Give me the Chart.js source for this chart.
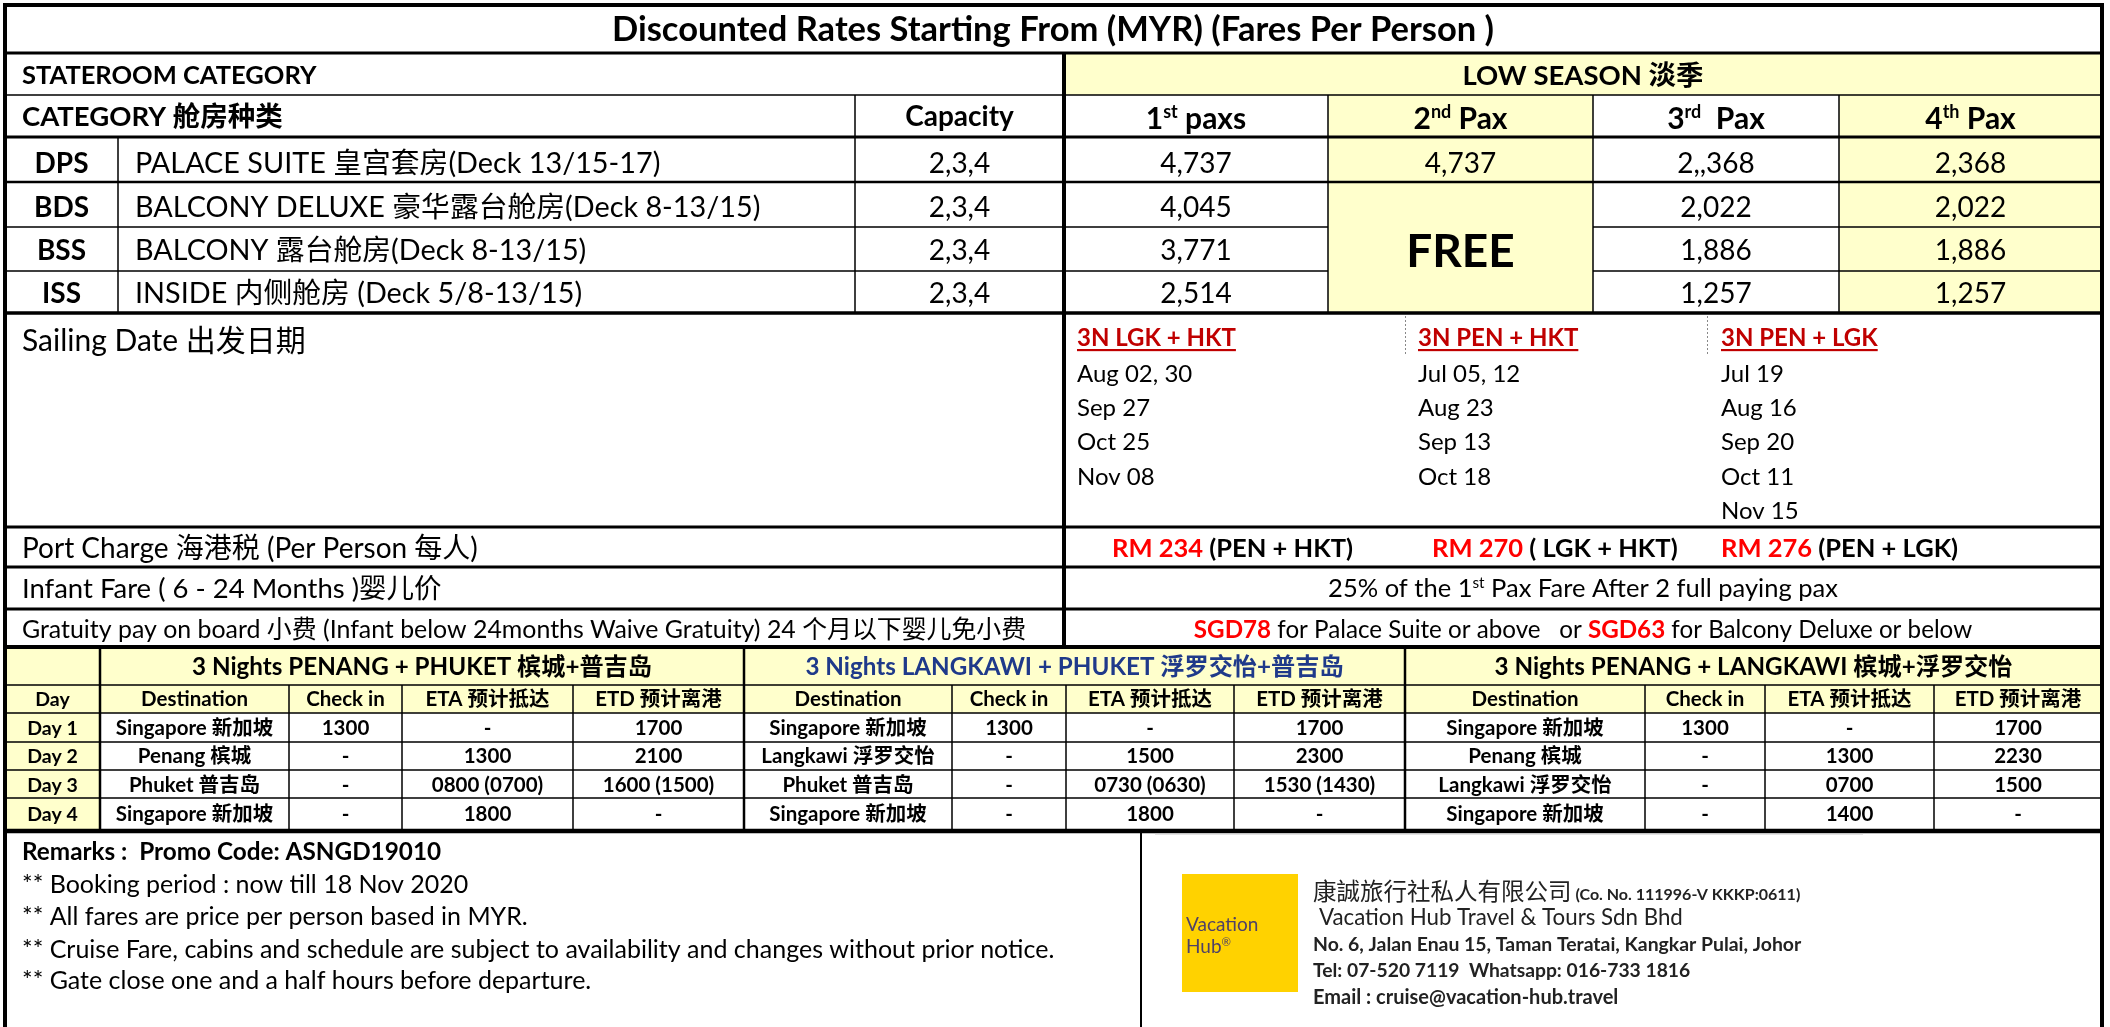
<!DOCTYPE html>
<html>
<head>
<meta charset="utf-8">
<script src="https://cdn.jsdelivr.net/npm/chart.js@4/dist/chart.umd.min.js"></script>
<style>
html,body{margin:0;padding:0;background:#fff;}
canvas{display:block;}
</style>
</head>
<body>
<canvas id="c" width="2110" height="1027"></canvas>
<script>
// ---------------- DATA ----------------
const titleText = "Discounted Rates Starting From (MYR) (Fares Per Person )";
const stateroomHeader = "STATEROOM CATEGORY";
const seasonHeader = "LOW SEASON 淡季";
const categoryHeader = "CATEGORY 舱房种类";
const capacityHeader = "Capacity";
const paxHeaders = [["1", "st", " paxs"], ["2", "nd", " Pax"], ["3", "rd", "  Pax"], ["4", "th", " Pax"]];
const cabinCodes = ["DPS", "BDS", "BSS", "ISS"];
const cabinNames = ["PALACE SUITE 皇宫套房(Deck 13/15-17)", "BALCONY DELUXE 豪华露台舱房(Deck 8-13/15)", "BALCONY 露台舱房(Deck 8-13/15)", "INSIDE 内侧舱房 (Deck 5/8-13/15)"];
const capacities = ["2,3,4", "2,3,4", "2,3,4", "2,3,4"];
const fare1st = ["4,737", "4,045", "3,771", "2,514"];
const fare2nd = ["4,737", "FREE"];
const fare3rd = ["2,,368", "2,022", "1,886", "1,257"];
const fare4th = ["2,368", "2,022", "1,886", "1,257"];

const sailingLabel = "Sailing Date 出发日期";
const sailingRoutes = ["3N LGK + HKT", "3N PEN + HKT", "3N PEN + LGK"];
const sailingDatesLGKHKT = ["Aug 02, 30", "Sep 27", "Oct 25", "Nov 08"];
const sailingDatesPENHKT = ["Jul 05, 12", "Aug 23", "Sep 13", "Oct 18"];
const sailingDatesPENLGK = ["Jul 19", "Aug 16", "Sep 20", "Oct 11", "Nov 15"];

const portChargeLabel = "Port Charge 海港税 (Per Person 每人)";
const portChargeAmounts = ["RM 234", "RM 270", "RM 276"];
const portChargeRoutes = [" (PEN + HKT)", " ( LGK + HKT)", " (PEN + LGK)"];
const infantLabel = "Infant Fare ( 6 - 24 Months )婴儿价";
const infantText = ["25% of the 1", "st", " Pax Fare After 2 full paying pax"];
const gratuityLabel = "Gratuity pay on board 小费 (Infant below 24months Waive Gratuity) 24 个月以下婴儿免小费";
const gratuityAmounts = ["SGD78", "SGD63"];
const gratuityTexts = [" for Palace Suite or above   or ", " for Balcony Deluxe or below"];

const itineraryTitles = ["3 Nights PENANG + PHUKET 槟城+普吉岛", "3 Nights LANGKAWI + PHUKET 浮罗交怡+普吉岛", "3 Nights PENANG + LANGKAWI 槟城+浮罗交怡"];
const itineraryColumns = ["Destination", "Check in", "ETA 预计抵达", "ETD 预计离港"];
const dayLabels = ["Day 1", "Day 2", "Day 3", "Day 4"];
const itineraryPENHKT = [["Singapore 新加坡", "1300", "-", "1700"], ["Penang 槟城", "-", "1300", "2100"], ["Phuket 普吉岛", "-", "0800 (0700)", "1600 (1500)"], ["Singapore 新加坡", "-", "1800", "-"]];
const itineraryLGKHKT = [["Singapore 新加坡", "1300", "-", "1700"], ["Langkawi 浮罗交怡", "-", "1500", "2300"], ["Phuket 普吉岛", "-", "0730 (0630)", "1530 (1430)"], ["Singapore 新加坡", "-", "1800", "-"]];
const itineraryPENLGK = [["Singapore 新加坡", "1300", "-", "1700"], ["Penang 槟城", "-", "1300", "2230"], ["Langkawi 浮罗交怡", "-", "0700", "1500"], ["Singapore 新加坡", "-", "1400", "-"]];

const remarksTitle = "Remarks :  Promo Code: ASNGD19010";
const remarksLines = ["** Booking period : now till 18 Nov 2020", "** All fares are price per person based in MYR.", "** Cruise Fare, cabins and schedule are subject to availability and changes without prior notice.", "** Gate close one and a half hours before departure."];
const logoWords = ["Vacation", "Hub"];
const companyCn = "康誠旅行社私人有限公司";
const companyReg = " (Co. No. 111996-V KKKP:0611)";
const companyLines = ["Vacation Hub Travel & Tours Sdn Bhd", "No. 6, Jalan Enau 15, Taman Teratai, Kangkar Pulai, Johor", "Tel: 07-520 7119  Whatsapp: 016-733 1816", "Email : cruise@vacation-hub.travel"];

// ---------------- LAYOUT / STYLE ----------------
const W = 2110, H = 1027;
const FAM = "Lato, 'Noto Sans CJK SC', sans-serif";
const YELLOW = "#FFFFCC", RED = "#FF0000", DARKRED = "#C00000", BLUE = "#1F3A8A", LOGO = "#FFD200";
const topCols = [5, 118, 855, 1064, 1328, 1593, 1839, 2102];
const topRows = [5, 53, 95, 137, 182, 227, 271, 313];
const cabinTextY = [163, 207, 250, 293];
const midRows = [313, 527, 567, 609, 647];
const botCols = [5, 100, 289, 402, 573, 744, 952, 1066, 1234, 1405, 1645, 1765, 1934, 2102];
const botRows = [647, 685, 713, 742, 770, 798, 831];

const tablePlugin = {
  id: 'tablePlugin',
  beforeDraw(chart) {
    const c = chart.ctx;
    c.save(); c.fillStyle = '#fff'; c.fillRect(0, 0, chart.width, chart.height); c.restore();
  },
  afterDraw(chart) {
    const ctx = chart.ctx;
    const sx = chart.scales.x, sy = chart.scales.y;
    const X = v => sx.getPixelForValue(v);
    const Y = v => sy.getPixelForValue(v);

    function rect(x1, y1, x2, y2, col) {
      ctx.fillStyle = col;
      ctx.fillRect(X(x1), Y(y1), X(x2) - X(x1), Y(y2) - Y(y1));
    }
    function hline(x1, x2, y, w, col) {
      ctx.fillStyle = col || '#000';
      ctx.fillRect(X(x1), Y(y) - w / 2, X(x2) - X(x1), w);
    }
    function vline(x, y1, y2, w, col) {
      ctx.fillStyle = col || '#000';
      ctx.fillRect(X(x) - w / 2, Y(y1), w, Y(y2) - Y(y1));
    }
    function fnt(size, bold) { return (bold ? '700 ' : '400 ') + size + 'px ' + FAM; }
    // runs: array of strings or {t, sup, color, bold, u, size}
    function rich(runs, x, y, align, size, bold, color) {
      const items = runs.map(r => typeof r === 'string' ? { t: r } : r);
      let total = 0;
      items.forEach(it => {
        const s0 = it.size || size;
        const s = it.sup ? s0 * 0.6 : s0;
        ctx.font = fnt(s, it.bold !== undefined ? it.bold : bold);
        it.w = ctx.measureText(it.t).width; it.s = s; total += it.w;
      });
      let px = X(x);
      if (align === 'center') px -= total / 2; else if (align === 'right') px -= total;
      const base = Y(y) + size * 0.36;
      ctx.textAlign = 'left'; ctx.textBaseline = 'alphabetic';
      items.forEach(it => {
        ctx.font = fnt(it.s, it.bold !== undefined ? it.bold : bold);
        ctx.fillStyle = it.color || color || '#000';
        const by = it.sup ? base - size * 0.36 : base;
        ctx.fillText(it.t, px, by);
        if (it.u) {
          ctx.fillRect(px, base + size * 0.14, it.w, Math.max(2, size * 0.09));
        }
        px += it.w;
      });
    }
    function txt(t, x, y, align, size, bold, color) { rich([t], x, y, align, size, bold, color); }

    // ---- backgrounds ----
    rect(topCols[3], topRows[1], topCols[7], topRows[2], YELLOW);
    rect(topCols[4], topRows[2], topCols[5], topRows[7], YELLOW);
    rect(topCols[6], topRows[2], topCols[7], topRows[7], YELLOW);
    rect(botCols[0], botRows[0], botCols[13], botRows[2], YELLOW);
    rect(botCols[0], botRows[2], botCols[1], botRows[6], YELLOW);

    // ---- grid lines: top section ----
    hline(3, 2104, 5, 4);
    vline(5, 3, H, 4);
    vline(2102, 3, H, 4);
    hline(5, 2102, topRows[1], 3);
    hline(5, 2102, topRows[2], 1.5);
    hline(5, 2102, topRows[3], 3);
    hline(5, 2102, topRows[4], 2.5);
    [topRows[5], topRows[6]].forEach(y => { hline(5, topCols[4], y, 1.5); hline(topCols[5], 2102, y, 1.5); });
    hline(5, 2102, topRows[7], 3.5);
    vline(topCols[1], topRows[3], topRows[7], 1.5);
    vline(topCols[2], topRows[2], topRows[7], 1.5);
    vline(topCols[3], topRows[1], midRows[4], 4);
    [topCols[4], topCols[5], topCols[6]].forEach(x => vline(x, topRows[2], topRows[7], 1.5));
    // middle
    hline(5, 2102, midRows[1], 3);
    hline(5, 2102, midRows[2], 3);
    hline(5, 2102, midRows[3], 3);
    hline(5, 2102, midRows[4], 4);
    // dotted dividers in sailing area
    ctx.save(); ctx.strokeStyle = '#888'; ctx.lineWidth = 1; ctx.setLineDash([2, 2]);
    [1405, 1707].forEach(x => { ctx.beginPath(); ctx.moveTo(X(x) + 0.5, Y(316)); ctx.lineTo(X(x) + 0.5, Y(354)); ctx.stroke(); });
    ctx.restore();
    // bottom section
    for (let i = 1; i < botRows.length - 1; i++) hline(5, 2102, botRows[i], 1.5);
    hline(5, 2102, botRows[6], 4.5);
    [botCols[1], botCols[5], botCols[9]].forEach(x => vline(x, botRows[0], botRows[6], 2.5));
    [2, 3, 4, 6, 7, 8, 10, 11, 12].forEach(i => vline(botCols[i], botRows[1], botRows[6], 1.5));
    // remarks divider and faint rule above the contact block
    vline(1141, botRows[6], H, 2);
    hline(1155, 1863, 834, 1, '#c8c8c8');

    // ---- texts: top ----
    txt(titleText, 1053, 29, 'center', 34.5, true);
    txt(stateroomHeader, 22, 75, 'left', 25.5, true);
    txt(seasonHeader, 1583, 75, 'center', 27.5, true);
    txt(categoryHeader, 22, 116, 'left', 27.5, true);
    txt(capacityHeader, (topCols[2] + topCols[3]) / 2, 116, 'center', 28, true);
    paxHeaders.forEach((p, i) => {
      const cx = (topCols[3 + i] + topCols[4 + i]) / 2;
      rich([p[0], { t: p[1], sup: true }, p[2]], cx, 118, 'center', 30, true);
    });
    cabinCodes.forEach((code, i) => {
      const y = cabinTextY[i];
      txt(code, (topCols[0] + topCols[1]) / 2, y, 'center', 28, true);
      txt(cabinNames[i], 135, y, 'left', 28.8, false);
      txt(capacities[i], (topCols[2] + topCols[3]) / 2, y, 'center', 28, false);
      txt(fare1st[i], (topCols[3] + topCols[4]) / 2, y, 'center', 28, false);
      txt(fare3rd[i], (topCols[5] + topCols[6]) / 2, y, 'center', 28, false);
      txt(fare4th[i], (topCols[6] + topCols[7]) / 2, y, 'center', 28, false);
    });
    txt(fare2nd[0], (topCols[4] + topCols[5]) / 2, cabinTextY[0], 'center', 28, false);
    txt(fare2nd[1], (topCols[4] + topCols[5]) / 2, 250, 'center', 46, true);

    // ---- sailing ----
    txt(sailingLabel, 22, 340, 'left', 30, false);
    const routeX = [1077, 1418, 1721];
    const dateLists = [sailingDatesLGKHKT, sailingDatesPENHKT, sailingDatesPENLGK];
    sailingRoutes.forEach((r, i) => {
      rich([{ t: r, u: true }], routeX[i], 337, 'left', 24, true, DARKRED);
      dateLists[i].forEach((d, j) => txt(d, routeX[i], 373 + j * 34.3, 'left', 24, false));
    });
    // port charge
    txt(portChargeLabel, 22, 548, 'left', 28, false);
    const pcX = [1112, 1432, 1721];
    portChargeAmounts.forEach((a, i) => {
      rich([{ t: a, color: RED }, portChargeRoutes[i]], pcX[i], 548, 'left', 25.5, true);
    });
    // infant
    txt(infantLabel, 22, 588, 'left', 27.5, false);
    rich([infantText[0], { t: infantText[1], sup: true }, infantText[2]], 1583, 588, 'center', 25.5, false);
    // gratuity
    txt(gratuityLabel, 22, 629, 'left', 24.9, false);
    rich([{ t: gratuityAmounts[0], color: RED, bold: true }, gratuityTexts[0], { t: gratuityAmounts[1], color: RED, bold: true }, gratuityTexts[1]], 1583, 629, 'center', 24.2, false);

    // ---- itineraries ----
    const groupCols = [[1, 5], [5, 9], [9, 13]];
    const itins = [itineraryPENHKT, itineraryLGKHKT, itineraryPENLGK];
    const rowY = [728, 756, 785, 814];
    groupCols.forEach((g, gi) => {
      txt(itineraryTitles[gi], (botCols[g[0]] + botCols[g[1]]) / 2, 666, 'center', 24.2, true, gi === 1 ? BLUE : '#000');
      itineraryColumns.forEach((h, k) => {
        txt(h, (botCols[g[0] + k] + botCols[g[0] + k + 1]) / 2, 699, 'center', 20.5, true);
      });
      itins[gi].forEach((row, r) => {
        row.forEach((v, k) => {
          txt(v, (botCols[g[0] + k] + botCols[g[0] + k + 1]) / 2, rowY[r], 'center', 20.5, true);
        });
      });
    });
    txt("Day", (botCols[0] + botCols[1]) / 2, 699, 'center', 19.5, true);
    dayLabels.forEach((d, r) => txt(d, (botCols[0] + botCols[1]) / 2, rowY[r], 'center', 19.5, true));

    // ---- remarks ----
    txt(remarksTitle, 22, 851, 'left', 24.3, true);
    remarksLines.forEach((l, i) => txt(l, 22, [884, 916, 949, 980][i], 'left', 25, false));

    // ---- logo & company ----
    rect(1182, 874, 1298, 992, LOGO);
    txt(logoWords[0], 1186, 924, 'left', 19, false, '#4f4168');
    rich([logoWords[1], { t: "®", sup: true }], 1186, 946, 'left', 19, false, '#4f4168');
    rich([{ t: companyCn, bold: false, size: 23.5 }, { t: companyReg, bold: true, size: 16 }], 1313, 892, 'left', 23.5, false, '#222');
    txt(companyLines[0], 1319, 917, 'left', 22.3, false, '#222');
    txt(companyLines[1], 1313, 944, 'left', 19.4, true, '#222');
    txt(companyLines[2], 1313, 970, 'left', 19.3, true, '#222');
    txt(companyLines[3], 1313, 997, 'left', 20, true, '#222');
  }
};

new Chart(document.getElementById('c').getContext('2d'), {
  type: 'scatter',
  data: { datasets: [{ data: [], pointRadius: 0 }] },
  options: {
    responsive: false,
    animation: false,
    devicePixelRatio: 1,
    layout: { padding: 0 },
    scales: {
      x: { type: 'linear', min: 0, max: W, display: false },
      y: { type: 'linear', min: 0, max: H, reverse: true, display: false }
    },
    plugins: { legend: { display: false }, tooltip: { enabled: false } }
  },
  plugins: [tablePlugin]
});
</script>
</body>
</html>
